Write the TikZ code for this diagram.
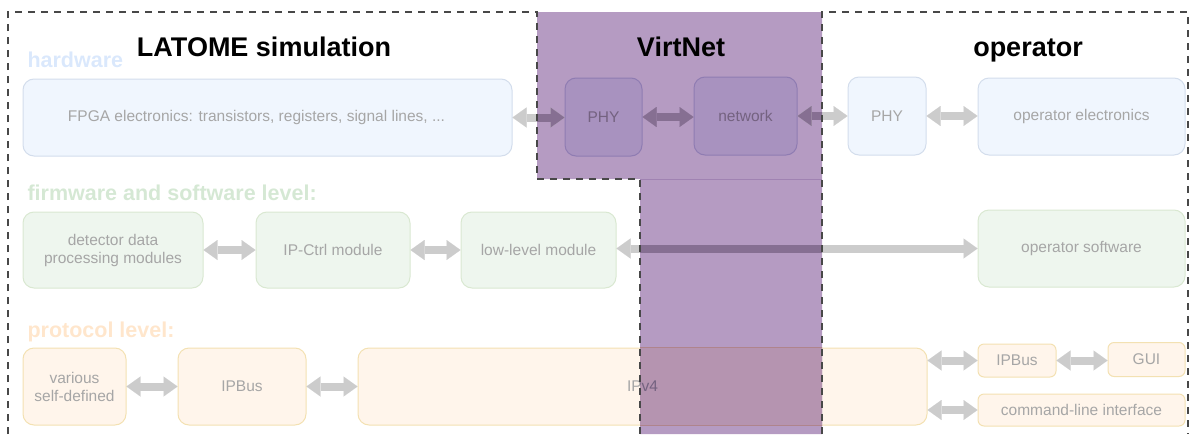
\documentclass[tikz,border=0pt]{standalone}
\usepackage{fontspec}
\setmainfont{Liberation Sans}
\usetikzlibrary{arrows.meta}

% plain colours
\definecolor{bluefill}{RGB}{240,246,254}
\definecolor{bluedraw}{RGB}{211,221,236}
\definecolor{greenfill}{RGB}{238,246,238}
\definecolor{greendraw}{RGB}{217,232,209}
\definecolor{orangefill}{RGB}{255,245,235}
\definecolor{orangedraw}{RGB}{243,225,178}
\definecolor{boxtext}{RGB}{166,166,166}
\definecolor{arrowgray}{RGB}{204,204,204}
\definecolor{dashgray}{RGB}{72,72,72}
\definecolor{hwlabel}{RGB}{218,232,252}
\definecolor{fwlabel}{RGB}{213,232,212}
\definecolor{prlabel}{RGB}{255,230,204}
% VirtNet area and the tones of things seen through it
\definecolor{virtnet}{RGB}{181,155,194}
\definecolor{virtedge}{RGB}{160,130,178}
\definecolor{vblufill}{RGB}{168,146,191}
\definecolor{vbludraw}{RGB}{143,124,178}
\definecolor{vorgfill}{RGB}{181,148,176}
\definecolor{vorgdraw}{RGB}{175,132,140}
\definecolor{vtext}{RGB}{116,98,128}
\definecolor{varrow}{RGB}{134,111,146}

\tikzset{
  blk/.style={rounded corners=11pt, line width=1pt, text=boxtext,
    font=\fontsize{15.5}{18}\selectfont, align=center, inner sep=0pt},
  smallblk/.style={blk, rounded corners=6pt},
  hw/.style={fill=bluefill, draw=bluedraw},
  fw/.style={fill=greenfill, draw=greendraw},
  pr/.style={fill=orangefill, draw=orangedraw},
  vhw/.style={fill=vblufill, draw=vbludraw, text=vtext},
  sz/.style 2 args={minimum width=#1pt, minimum height=#2pt},
  flex/.style={draw=arrowgray, line width=8pt,
    {Triangle[length=14pt,width=20pt,line width=0.01pt]}-{Triangle[length=14pt,width=20pt,line width=0.01pt]}},
  vflex/.style={flex, draw=varrow},
  bound/.style={draw=dashgray, line width=2.6pt, dash pattern=on 7pt off 6pt},
  title/.style={font=\fontsize{27}{30}\selectfont\bfseries, anchor=base, text=black},
  level/.style={font=\fontsize{21.5}{24}\selectfont\bfseries, anchor=base west},
}

% outline of the VirtNet area
\def\virtregion{(537,12) -- (822,12) -- (822,434) -- (640,434) -- (640,179) -- (537,179) -- cycle}

\begin{document}
\begin{tikzpicture}[x=1pt, y=-1pt]
\useasboundingbox (0,0) rectangle (1196,434);

% hardware row
\node[blk, hw, sz={489}{77}] (fpga) at (267.5,117.5) {FPGA electronics: transistors, registers, signal lines, ...\kern22pt};
\node[blk, hw, sz={78}{78}] (phyB) at (887,116) {PHY};
\node[blk, hw, sz={207}{77}] (opel) at (1081.5,116.5) {operator electronics};

% firmware and software row
\node[blk, fw, sz={180}{76}] (det) at (113,250) {detector data\\processing modules};
\node[blk, fw, sz={154}{76}] (ipctrl) at (333,250) {IP-Ctrl module};
\node[blk, fw, sz={155}{76}] (low) at (538.5,250) {low-level module};
\node[blk, fw, sz={207}{77}] (opsw) at (1081.5,248.5) {operator software};

% protocol row
\node[blk, pr, sz={103}{77}] (var) at (74.5,386.5) {various\\self-defined};
\node[blk, pr, sz={128}{77}] (ipbusA) at (242,386.5) {IPBus};
\node[blk, pr, sz={569}{77}] (ipv4) at (642.5,386.5) {IPv4};
\node[smallblk, pr, sz={78}{33}] (ipbusB) at (1017,360.5) {IPBus};
\node[smallblk, pr, sz={77}{34}] (gui) at (1146.5,359.5) {GUI};
\node[smallblk, pr, sz={207}{32}] (cli) at (1081.5,410) {command-line interface};

% level labels
\node[level, text=hwlabel] (lhw) at (24,67) {hardware};
\node[level, text=fwlabel] (lfw) at (24,200) {firmware and software level:};
\node[level, text=prlabel] (lpr) at (24,337) {protocol level:};

% VirtNet area, with the part of the IPv4 block lying beneath it
\fill[virtnet] \virtregion;
\begin{scope}
  \clip \virtregion;
  \draw[fill=vorgfill, draw=vorgdraw, line width=1pt] (ipv4.south west) rectangle (ipv4.north east);
  \node[font=\fontsize{15.5}{18}\selectfont, text=vtext, inner sep=0pt] (ipv4v) at (ipv4.center) {IPv4};
\end{scope}
\draw[virtedge, line width=0.8pt] (640,179.5) -- (822,179.5);

% blocks inside VirtNet
\node[blk, vhw, sz={77}{78}] (phyA) at (603.5,117) {PHY};
\node[blk, vhw, sz={103}{78}] (net) at (745.5,116) {network};

% double arrows
\draw[flex] (fpga.east) -- (fpga.east -| phyA.west);
\draw[vflex] (phyA.east) -- (phyA.east -| net.west);
\draw[flex] (net.east) -- (net.east -| phyB.west);
\draw[flex] (phyB.east) -- (phyB.east -| opel.west);
\draw[flex] (det.east) -- (ipctrl.west);
\draw[flex] (ipctrl.east) -- (low.west);
\draw[flex] (low.east |- opsw.west) -- (opsw.west);
\draw[flex] (var.east) -- (ipbusA.west);
\draw[flex] (ipbusA.east) -- (ipv4.west);
\draw[flex] (ipv4.east |- ipbusB.west) -- (ipbusB.west);
\draw[flex] (ipv4.east |- cli.west) -- (cli.west);
\draw[flex] (ipbusB.east) -- (ipbusB.east -| gui.west);
% the parts of the arrows crossing VirtNet
\begin{scope}
  \clip \virtregion;
  \draw[vflex] (fpga.east) -- (fpga.east -| phyA.west);
  \draw[vflex] (net.east) -- (net.east -| phyB.west);
  \draw[vflex] (low.east |- opsw.west) -- (opsw.west);
\end{scope}

% domain boundaries
\draw[bound] (8,434) |- (537,12) |- (640,179) -- (640,434);
\draw[bound] (822,434) |- (1188,12) -- (1188,434);

% domain titles
\node[title] (tlatome) at (264,56) {LATOME simulation};
\node[title] (tvirt) at (681,56) {VirtNet};
\node[title] (top) at (1028,56) {operator};
\end{tikzpicture}
\end{document}
